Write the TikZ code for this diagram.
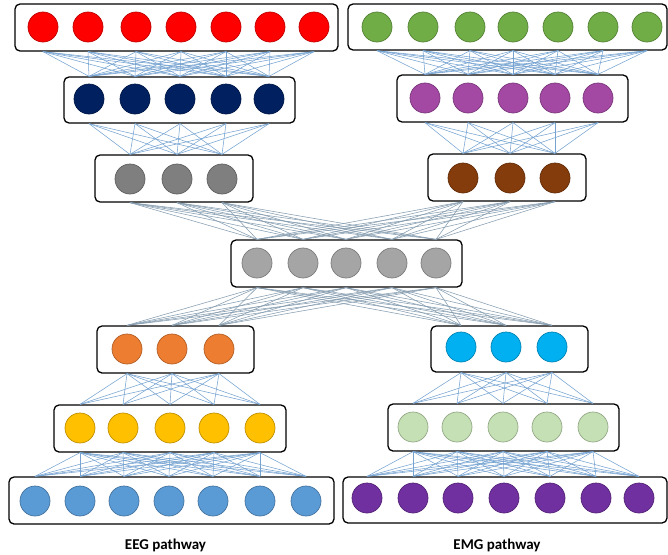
\documentclass[tikz,border=0pt]{standalone}
\usepackage{fontspec}
\setmainfont{Carlito}
\usepackage{xcolor}
\definecolor{eegred}{HTML}{FF0000}
\definecolor{emggreen}{HTML}{70AD47}
\definecolor{eegnavy}{HTML}{002060}
\definecolor{emgmagenta}{HTML}{A349A4}
\definecolor{eeggrey}{HTML}{7F7F7F}
\definecolor{emgbrown}{HTML}{843C0C}
\definecolor{midgrey}{HTML}{A5A5A5}
\definecolor{eegorange}{HTML}{ED7D31}
\definecolor{emgcyan}{HTML}{00B0F0}
\definecolor{eegyellow}{HTML}{FFC000}
\definecolor{emglight}{HTML}{C5E0B4}
\definecolor{eegblue}{HTML}{5B9BD5}
\definecolor{emgpurple}{HTML}{7030A0}
\definecolor{linkblue}{HTML}{76A3D1}
\definecolor{linkgrey}{HTML}{869DB0}

\begin{document}
\begin{tikzpicture}[x=1pt,y=-1pt,
  layer/.style={draw=black,line width=1.3pt,rounded corners=5pt,fill=white,inner sep=0pt},
  unit/.style={circle,minimum size=30pt,inner sep=0pt,line width=0.7pt,fill=#1,draw=#1!75!black},
  link/.style={linkblue,line width=0.55pt},
  cross/.style={linkgrey,line width=0.55pt},
  caption/.style={font=\bfseries\fontsize{15}{17}\selectfont}]
\useasboundingbox (0,0) rectangle (668,554);
\node[layer,minimum width=323,minimum height=47] (redbox) at (176.5,27.5) {};
\node[layer,minimum width=319,minimum height=46] (greenbox) at (507.5,27) {};
\node[layer,minimum width=231,minimum height=46] (navybox) at (179.5,100) {};
\node[layer,minimum width=231,minimum height=47] (magbox) at (512.5,98.5) {};
\node[layer,minimum width=158,minimum height=47] (greybox) at (174,178.5) {};
\node[layer,minimum width=158,minimum height=47] (brownbox) at (507,177.5) {};
\node[layer,minimum width=231,minimum height=47] (midbox) at (346.5,263.5) {};
\node[layer,minimum width=157,minimum height=47] (orangebox) at (175.5,349.5) {};
\node[layer,minimum width=157,minimum height=46] (cyanbox) at (509.5,349) {};
\node[layer,minimum width=232,minimum height=47] (yellowbox) at (170,428.5) {};
\node[layer,minimum width=231,minimum height=47] (lightbox) at (503.5,427.5) {};
\node[layer,minimum width=325,minimum height=47] (bluebox) at (171.5,500.5) {};
\node[layer,minimum width=324,minimum height=46] (purplebox) at (505,500) {};
\foreach \x [count=\i] in {43,88,136,181,226,270,314}
  \node[unit=eegred] (red\i) at (\x,27) {};
\foreach \x [count=\i] in {377,423,470,513,558,603,647}
  \node[unit=emggreen] (green\i) at (\x,27) {};
\foreach \x [count=\i] in {89,135,180,226,269}
  \node[unit=eegnavy] (navy\i) at (\x,99) {};
\foreach \x [count=\i] in {425,468,513,555,598}
  \node[unit=emgmagenta] (mag\i) at (\x,98) {};
\foreach \x [count=\i] in {130,177,222}
  \node[unit=eeggrey] (grey\i) at (\x,179) {};
\foreach \x [count=\i] in {463,510,555}
  \node[unit=emgbrown] (brown\i) at (\x,178) {};
\foreach \x [count=\i] in {257,303,346,392,436}
  \node[unit=midgrey] (mid\i) at (\x,263) {};
\foreach \x [count=\i] in {127,172,219}
  \node[unit=eegorange] (orange\i) at (\x,349) {};
\foreach \x [count=\i] in {461,506,552}
  \node[unit=emgcyan] (cyan\i) at (\x,347) {};
\foreach \x [count=\i] in {80,123,170,214,260}
  \node[unit=eegyellow] (yellow\i) at (\x,428) {};
\foreach \x [count=\i] in {413,457,503,547,593}
  \node[unit=emglight] (light\i) at (\x,427) {};
\foreach \x [count=\i] in {35,80,124,169,213,260,306}
  \node[unit=eegblue] (blue\i) at (\x,501) {};
\foreach \x [count=\i] in {367,413,458,504,550,596,639}
  \node[unit=emgpurple] (purple\i) at (\x,498) {};
\foreach \i in {1,...,7}
  \foreach \j in {1,...,5} {
    \draw[link] (red\i |- redbox.south) -- (navy\j |- navybox.north);
    \draw[link] (green\i |- greenbox.south) -- (mag\j |- magbox.north);
    \draw[link] (blue\i |- bluebox.north) -- (yellow\j |- yellowbox.south);
    \draw[link] (purple\i |- purplebox.north) -- (light\j |- lightbox.south);
  }
\foreach \i in {1,...,5}
  \foreach \j in {1,...,3} {
    \draw[link] (navy\i |- navybox.south) -- (grey\j |- greybox.north);
    \draw[link] (mag\i |- magbox.south) -- (brown\j |- brownbox.north);
    \draw[link] (yellow\i |- yellowbox.north) -- (orange\j |- orangebox.south);
    \draw[link] (light\i |- lightbox.north) -- (cyan\j |- cyanbox.south);
    \draw[cross] (mid\i |- midbox.north) -- (grey\j |- greybox.south);
    \draw[cross] (mid\i |- midbox.north) -- (brown\j |- brownbox.south);
    \draw[cross] (mid\i |- midbox.south) -- (orange\j |- orangebox.north);
    \draw[cross] (mid\i |- midbox.south) -- (cyan\j |- cyanbox.north);
  }
\node[caption] (eeglabel) at (165.5,545) {EEG pathway};
\node[caption] (emglabel) at (497,545) {EMG pathway};
\end{tikzpicture}
\end{document}
